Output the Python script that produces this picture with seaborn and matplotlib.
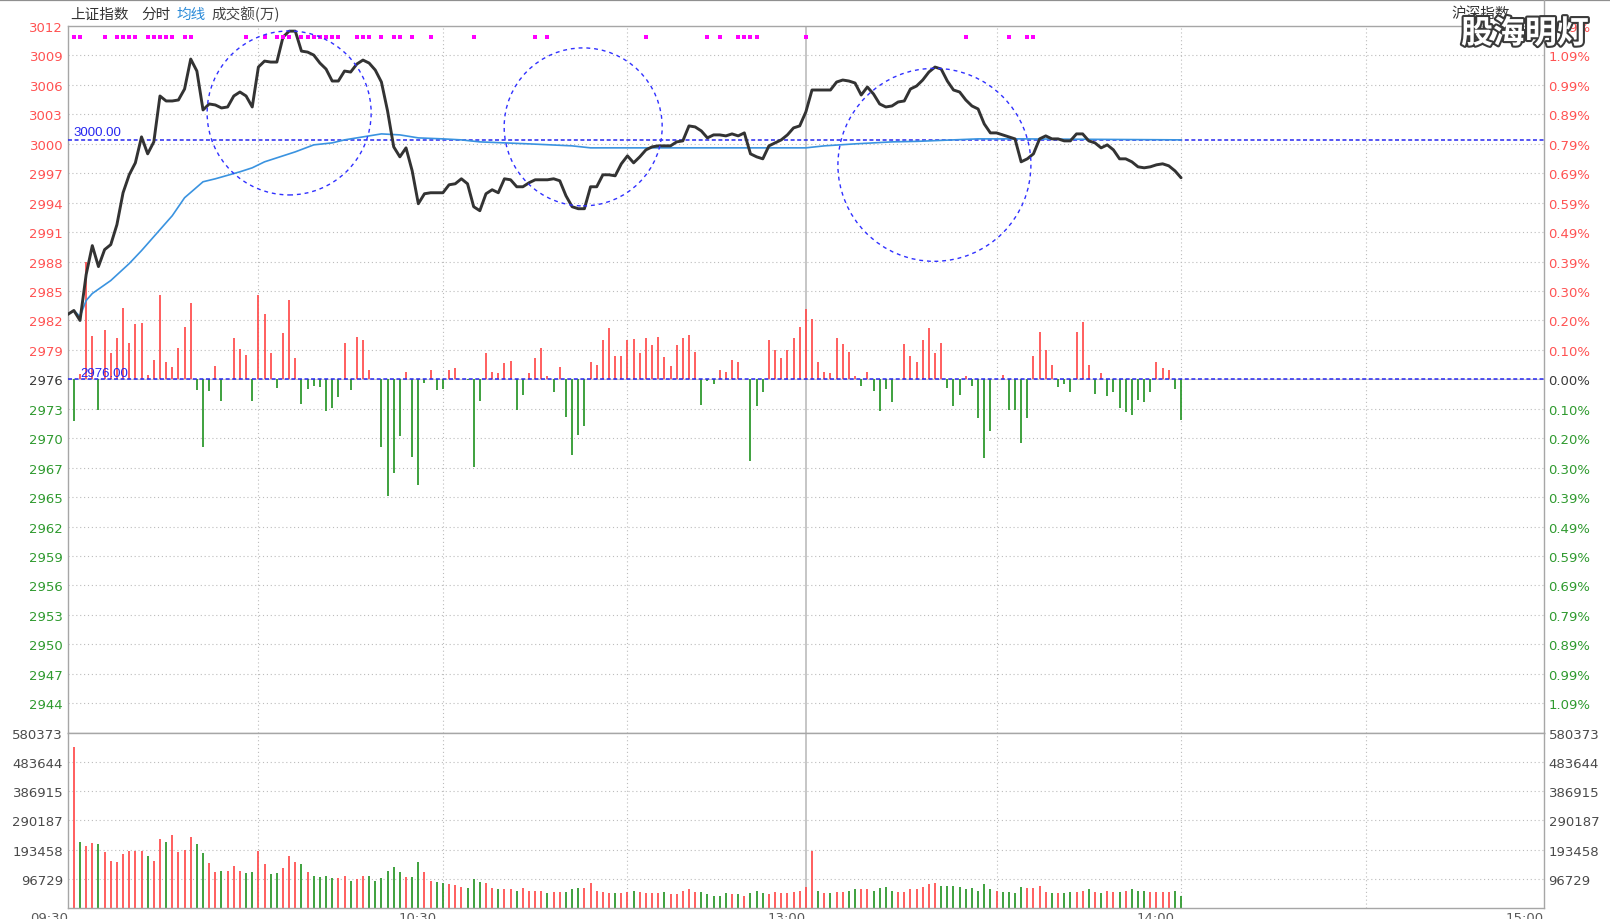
import matplotlib
matplotlib.use("Agg")
import matplotlib.pyplot as plt
import matplotlib.patheffects as pe
from matplotlib.patches import Ellipse
from matplotlib.lines import Line2D
import numpy as np
import seaborn as sns

sns.set_style("white")
plt.rcParams['font.family'] = ['DejaVu Sans', 'Noto Sans CJK SC']

# ---------------- data ----------------
prev_close = 2976.0
ref_level = 3000.0
row_step = 2.9513           # price per grid row (0.0992 %)
vol_step = 96729            # volume per grid row

left_labels = ['3012', '3009', '3006', '3003', '3000', '2997', '2994', '2991', '2988', '2985', '2982', '2979',
               '2976', '2973', '2970', '2967', '2965', '2962', '2959', '2956', '2953', '2950', '2947', '2944']
right_labels = ['1.19%', '1.09%', '0.99%', '0.89%', '0.79%', '0.69%', '0.59%', '0.49%', '0.39%', '0.30%', '0.20%', '0.10%',
                '0.00%', '0.10%', '0.20%', '0.30%', '0.39%', '0.49%', '0.59%', '0.69%', '0.79%', '0.89%', '0.99%', '1.09%']
vol_labels = ['96729', '193458', '290187', '386915', '483644', '580373']
time_slots = [0, 60, 120, 180, 240]
time_labels = ['09:30', '10:30', '13:00', '14:00', '15:00']

# minute price (slot 0..181)
price = [2982.5, 2982.9, 2981.9, 2986.5, 2989.4, 2987.3, 2989.0, 2989.5, 2991.5, 2994.7,
         2996.5, 2997.7, 3000.3, 2998.6, 2999.8, 3004.4, 3003.9, 3003.9, 3004.0, 3005.1,
         3008.1, 3006.9, 3003.0, 3003.6, 3003.5, 3003.2, 3003.3, 3004.4, 3004.8, 3004.4,
         3003.3, 3007.3, 3007.9, 3007.8, 3007.8, 3010.3, 3010.9, 3010.9, 3008.9, 3008.8,
         3008.5, 3007.7, 3007.1, 3005.9, 3005.9, 3006.9, 3006.8, 3007.6, 3008.0, 3007.7,
         3007.0, 3005.8, 3002.9, 2999.3, 2998.3, 2999.2, 2996.9, 2993.6, 2994.6, 2994.7,
         2994.7, 2994.7, 2995.5, 2995.6, 2996.1, 2995.6, 2993.3, 2992.9, 2994.6, 2995.0,
         2994.7, 2996.1, 2996.0, 2995.3, 2995.3, 2995.7, 2996.0, 2996.0, 2996.0, 2996.1,
         2995.9, 2994.4, 2993.3, 2993.1, 2993.1, 2995.3, 2995.3, 2996.5, 2996.5, 2996.4,
         2997.6, 2998.4, 2997.7, 2998.3, 2999.0, 2999.3, 2999.4, 2999.4, 2999.4, 2999.8,
         2999.9, 3001.4, 3001.3, 3000.9, 3000.2, 3000.5, 3000.5, 3000.4, 3000.6, 3000.4,
         3000.7, 2998.6, 2998.3, 2998.1, 2999.4, 2999.7, 3000.0, 3000.5, 3001.2, 3001.4,
         3002.8, 3005.0, 3005.0, 3005.0, 3005.0, 3005.8, 3006.0, 3005.9, 3005.7, 3004.5,
         3005.3, 3004.6, 3003.6, 3003.3, 3003.4, 3003.8, 3003.9, 3005.1, 3005.4, 3006.0,
         3006.8, 3007.3, 3007.1, 3005.9, 3005.0, 3004.8, 3004.0, 3003.4, 3003.1, 3001.6,
         3000.7, 3000.7, 3000.5, 3000.3, 3000.1, 2997.8, 2998.1, 2998.6, 3000.1, 3000.4,
         3000.1, 3000.1, 2999.9, 2999.9, 3000.6, 3000.6, 2999.9, 2999.7, 2999.2, 2999.5,
         2999.0, 2998.1, 2998.1, 2997.8, 2997.3, 2997.2, 2997.3, 2997.5, 2997.6, 2997.4,
         2996.9, 2996.2]
price_slot = list(range(len(price)))

# average-price line (read at these slots)
avg_slot = [0, 1, 2, 3, 4, 7, 10, 12, 15, 17, 19, 22, 24, 28, 30, 32, 37, 40, 43, 45, 49, 51, 54, 57,
            61, 64, 67, 75, 82, 85, 120, 123, 128, 134, 138, 142, 148, 155, 181]
avg_price = [2982.5, 2982.9, 2982.3, 2983.9, 2984.6, 2985.9, 2987.6, 2988.9, 2991.0, 2992.4, 2994.2,
             2995.8, 2996.1, 2996.8, 2997.2, 2997.8, 2998.8, 2999.5, 2999.7, 3000.0, 3000.4, 3000.6,
             3000.5, 3000.2, 3000.1, 3000.0, 2999.8, 2999.6, 2999.4, 2999.2, 2999.2, 2999.4, 2999.6,
             2999.8, 2999.85, 2999.95, 3000.1, 3000.1, 3000.0]

# red/green strength bars around the previous close (slot 1..181), price units
breadth = [-4.2, 0.5, 11.8, 4.3, -3.1, 4.9, 2.6, 4.1, 7.1, 3.6,
           5.5, 5.6, 0.4, 1.9, 8.5, 1.7, 1.2, 3.1, 5.2, 7.6,
           -1.1, -6.8, -1.2, 1.3, -2.2, 0.0, 4.1, 3.0, 2.4, -2.2,
           8.5, 6.5, 2.6, -0.9, 4.6, 7.9, 2.1, -2.5, -1.0, -0.7,
           -0.8, -3.2, -2.9, -1.8, 3.6, -1.1, 4.2, 3.9, 0.9, 0.0,
           -6.8, -11.7, -9.4, -5.7, 0.7, -7.8, -10.6, -0.4, 0.9, -1.1,
           -1.0, 0.9, 1.1, 0.0, -0.1, -8.8, -2.2, 2.6, 0.7, 0.6,
           1.6, 1.8, -3.1, -1.6, 0.6, 2.1, 3.1, 0.3, -1.3, 1.2,
           -3.8, -7.6, -5.6, -4.7, 1.7, 1.4, 3.9, 5.1, 2.3, 2.3,
           3.9, 4.0, 2.6, 4.1, 3.4, 4.2, 2.2, 1.3, 3.4, 4.1,
           4.4, 2.7, -2.6, -0.2, -0.5, 0.9, 0.7, 1.9, 1.7, 0.0,
           -8.2, -2.7, -1.3, 3.9, 2.9, 2.1, 2.9, 4.1, 5.2, 7.0,
           6.0, 1.7, 0.7, 0.6, 4.1, 3.5, 2.7, 0.3, -0.7, 0.7,
           -1.2, -3.2, -1.0, -2.3, 0.0, 3.5, 2.3, 1.7, 3.9, 5.1,
           2.6, 3.6, -0.9, -2.7, -1.6, 0.3, -0.7, -3.9, -7.9, -5.2,
           0.0, 0.4, -3.1, -3.1, -6.4, -3.9, 2.3, 4.7, 2.9, 1.4,
           -0.8, -0.5, -1.3, 4.7, 5.7, 1.4, -1.5, 0.6, -1.7, -1.3,
           -2.9, -3.3, -3.6, -2.1, -2.3, -1.3, 1.7, 1.1, 0.9, -1.0,
           -4.1]
bar_slot = list(range(1, len(breadth) + 1))

# turnover (万), slot 1..181
volume = [531300, 219100, 206000, 213600, 210300, 186200, 156700, 153400, 177500, 189500,
          189500, 189500, 173100, 156700, 226800, 218000, 243200, 186200, 190600, 235500,
          210300, 180800, 147900, 119400, 123800, 123800, 140200, 123800, 115000, 119400,
          189500, 145700, 111700, 115000, 131500, 173100, 152300, 144600, 119400, 107400,
          103000, 107400, 98600, 98600, 107400, 90900, 95300, 107400, 107400, 90900,
          98600, 123800, 135800, 119400, 103000, 103000, 152300, 119400, 90900, 86500,
          83300, 78900, 74500, 70100, 65700, 95300, 86500, 82200, 65700, 62400,
          62300, 62300, 57900, 65600, 54700, 57900, 54700, 49200, 53600, 53600,
          53600, 62300, 65600, 65600, 82000, 56800, 53600, 49200, 49200, 49200,
          53600, 57900, 53600, 49200, 49200, 49200, 53600, 45900, 45900, 56800,
          62300, 53600, 53600, 45900, 40400, 40400, 49200, 45900, 45900, 40400,
          49200, 57900, 49200, 45900, 53600, 49200, 49200, 53600, 57900, 68900,
          189100, 56800, 49200, 49200, 53600, 53600, 57900, 62300, 62300, 62300,
          57900, 65600, 70000, 57900, 53600, 53600, 62300, 62300, 70000, 78700,
          83100, 74300, 74300, 74300, 70000, 62300, 65600, 57900, 78700, 62300,
          57900, 53600, 53600, 49200, 70000, 66700, 66700, 74300, 53600, 49200,
          49200, 49200, 53600, 53600, 56800, 62300, 53600, 49200, 57900, 53600,
          53600, 57900, 62300, 57900, 57900, 53600, 53600, 53600, 53600, 57900,
          38300]
vol_dir = ("RGRRGRRRRR" "RRGRRGRRRR" "GGRRGRRRGG" "RRGGRRRGRG" "GGGRRGRRGG"
           "GGGGRGGRRG" "GRRRGGGRRG" "RRGRRRRGRR" "GGGRRRRRGR" "RGRRRRGRRR"
           "RRGGGGGRGR" "GGGRRRRRRR" "RGRGRRGGRR" "GGGGRRRRRR" "RGGGGGGGGG"
           "RGGGGRRRRG" "RGGRRGRGRR" "GRGGGRRRRG" "G")

# magenta signal dots (slots)
dot_slots = [1, 2, 6, 8, 9, 10, 11, 13, 14, 15, 16, 17, 19, 20, 29, 32, 34, 35, 36, 38, 39, 40, 41, 42,
             43, 44, 47, 48, 49, 51, 53, 54, 56, 59, 66, 76, 78, 94, 104, 106, 109, 110, 111, 112, 120,
             146, 153, 156, 157]

# dashed circles: centre slot, centre price, radius in pixels
circle_slot = [36.0, 83.8, 140.9]
circle_price = [3002.7, 3001.3, 2997.5]
circle_radius_px = [82, 79, 96.5]

# ---------------- layout ----------------
W, H = 1610, 920
L, R, T, MID, B = 67.7, 1544.0, 27.0, 733.6, 909.0
fig = plt.figure(figsize=(W / 100, H / 100), dpi=100)
fig.patch.set_facecolor('white')
ax = fig.add_axes([L / W, 1 - MID / H, (R - L) / W, (MID - T) / H])
axv = fig.add_axes([L / W, 1 - B / H, (R - L) / W, (B - MID) / H])

ymin, ymax = prev_close - 12 * row_step, prev_close + 12 * row_step
for a in (ax, axv):
    a.set_facecolor('white')
    a.set_xlim(0, 240)
ax.set_ylim(ymin, ymax)
axv.set_ylim(0, 6 * vol_step)

RED = '#ff5252'
GREEN = '#2f9a2f'
GRID = '#bcbcbc'
BORDER = '#a6a6a6'
BLUE = '#2626f0'
dot_ls = (0, (1, 2.5))

# grid
for k in range(-11, 12):
    if k != 0:
        ax.axhline(prev_close + k * row_step, color=GRID, lw=0.8, ls=dot_ls, zorder=0)
ax.axhline(prev_close, color='#cfcfcf', lw=0.8, zorder=0)
for k in range(1, 6):
    axv.axhline(k * vol_step, color=GRID, lw=0.8, ls=dot_ls, zorder=0)
for a in (ax, axv):
    for xg in [31, 61, 91, 151, 181, 211]:
        a.axvline(xg, color=GRID, lw=0.8, ls=dot_ls, zorder=0)
    a.axvline(120, color='#c2c2c2', lw=1.3, zorder=0)

# strength bars
b = np.array(breadth)
ax.vlines(bar_slot, prev_close, prev_close + b, colors=np.where(b >= 0, RED, GREEN), lw=1.3, zorder=2)

# reference levels
dash = (0, (2.6, 1.7))
ax.axhline(ref_level, color=BLUE, lw=1.1, ls=dash, zorder=3)
ax.axhline(prev_close, color=BLUE, lw=1.1, ls=dash, zorder=3)
ax.annotate(f'{ref_level:.2f}', xy=(0.9, ref_level), xytext=(0, 1.5), textcoords='offset points',
            va='bottom', ha='left', fontsize=9.5, color=BLUE, family='Liberation Sans', zorder=7)
ax.annotate(f'{prev_close:.2f}', xy=(2.0, prev_close), xytext=(0, 0.5), textcoords='offset points',
            va='bottom', ha='left', fontsize=9.5, color=BLUE, family='Liberation Sans', zorder=7)

# lines
sns.lineplot(x=avg_slot, y=avg_price, ax=ax, color='#3a93e0', lw=1.2, estimator=None, sort=False,
             zorder=4, legend=False)
sns.lineplot(x=price_slot, y=price, ax=ax, color='#333333', lw=2.1, estimator=None, sort=False,
             zorder=5, legend=False)

# signal dots
dot_y = ymax - 1.1
sns.scatterplot(x=dot_slots, y=[dot_y] * len(dot_slots), ax=ax, marker='s', s=5, color='#ff00ff',
                linewidth=0, zorder=6, legend=False)

# circles (round in pixel space)
px_per_slot = (R - L) / 240.0
px_per_unit = (MID - T) / (ymax - ymin)
for cs, cp, rp in zip(circle_slot, circle_price, circle_radius_px):
    ax.add_patch(Ellipse((cs, cp), width=2 * rp / px_per_slot, height=2 * rp / px_per_unit,
                         fill=False, ec='#3030ff', lw=1.0, ls=(0, (2.8, 2.8)), zorder=6))

# volume bars
vcols = [RED if d == 'R' else GREEN for d in vol_dir]
axv.vlines(bar_slot, 0, volume, colors=vcols, lw=1.3, zorder=2)

# ---------------- ticks & labels ----------------
levels = [prev_close + k * row_step for k in range(12, -12, -1)]
ax.set_yticks(levels)
ax.set_yticklabels(left_labels)
ax.tick_params(axis='y', length=0, pad=3.3, labelsize=9.5)
ax.tick_params(axis='x', length=0, labelbottom=False)
axr = ax.twinx()
axr.set_ylim(ymin, ymax)
axr.set_yticks(levels)
axr.set_yticklabels(right_labels)
axr.tick_params(axis='y', length=0, pad=3.0, labelsize=9.5)
for lab_l, lab_r, k in zip(ax.get_yticklabels(), axr.get_yticklabels(), range(12, -12, -1)):
    c = RED if k > 0 else (GREEN if k < 0 else '#3a3a3a')
    lab_l.set_color(c)
    lab_r.set_color(c)
for sp in axr.spines.values():
    sp.set_visible(False)

axv.set_yticks([vol_step * k for k in range(1, 7)])
axv.set_yticklabels(vol_labels)
axv.tick_params(axis='y', length=0, pad=3.3, labelsize=9.5, labelcolor='#4a4a4a',
                labelleft=True, labelright=True)
axv.set_xticks(time_slots)
axv.set_xticklabels(time_labels)
for lbl in axv.get_xticklabels():
    lbl.set_ha('right')
axv.tick_params(axis='x', length=0, pad=2.2, labelsize=9.5, labelcolor='#5a5a5a')

for a in (ax, axv):
    for sp in a.spines.values():
        sp.set_visible(True)
        sp.set_color(BORDER)
        sp.set_linewidth(1.0)

# header
cjk = 'Noto Sans CJK SC'
fig.text(70 / W, 1 - 14.5 / H, '上证指数', family=cjk, fontsize=10.5, color='#333333', va='center')
fig.text(141.5 / W, 1 - 14.5 / H, '分时', family=cjk, fontsize=10.5, color='#333333', va='center')
fig.text(176 / W, 1 - 14.5 / H, '均线', family=cjk, fontsize=10.5, color='#2a8ad8', va='center')
fig.text(211.5 / W, 1 - 14.5 / H, '成交额(万)', family=cjk, fontsize=10.5, color='#444444', va='center')
fig.text(1451 / W, 1 - 14 / H, '沪深指数', family=cjk, fontsize=10.5, color='#333333', va='center')

# window frame lines
fig.add_artist(Line2D([0, 1], [1 - 1 / H, 1 - 1 / H], transform=fig.transFigure, color='#8f8f8f', lw=1.6))
fig.add_artist(Line2D([R / W, R / W], [1, 1 - T / H], transform=fig.transFigure, color=BORDER, lw=1.0))

# watermark
fig.text(1525 / W, 1 - 35 / H, '股海明灯', family=cjk, fontsize=23, fontweight='bold', color='white',
         ha='center', va='center', zorder=20,
         path_effects=[pe.withStroke(linewidth=3, foreground='#3a3a3a')])

fig.savefig('out.png', dpi=100, facecolor='white')
